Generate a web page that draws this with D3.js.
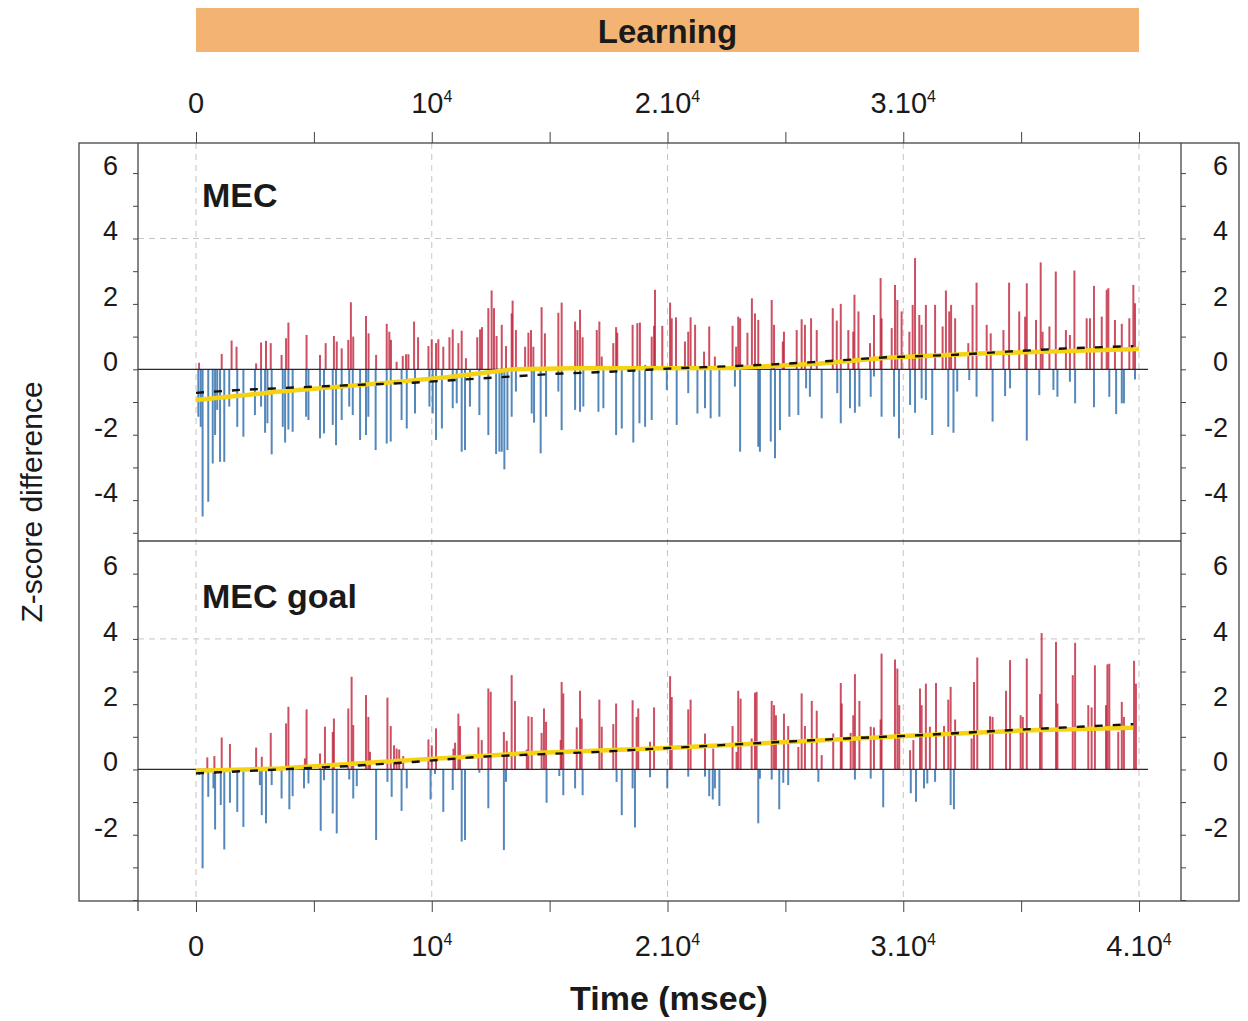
<!DOCTYPE html>
<html>
<head>
<meta charset="utf-8">
<script src="https://cdn.jsdelivr.net/npm/d3@7/dist/d3.min.js"></script>
<style>
  body { margin: 0; background: #fff; }
  svg { display: block; }
  text { font-family: "Liberation Sans", Arial, sans-serif; fill: #1a1a1a; }
</style>
</head>
<body>
<svg id="chart" width="1248" height="1021"></svg>
<script>
// x ticks (msec) and their labels: [mantissa, exponent]
const timeTicks = [0, 10000, 20000, 30000, 40000];
const timeLabels = [["0", ""], ["10", "4"], ["2.10", "4"], ["3.10", "4"], ["4.10", "4"]];
const minorTimeTicks = [0, 5000, 10000, 15000, 20000, 25000, 30000, 35000, 40000];

// MEC panel: [time msec, z-score difference]
const mecUp = [
  [130,0.2],[1090,0.47],[1510,0.88],[1720,0.69],[2550,0.18],[2760,0.82],[2970,0.87],[3170,0.8],[3630,0.44],[3820,0.95],
  [3920,1.43],[4690,1.05],[5260,0.44],[5500,0.8],[5850,1.02],[5970,0.85],[6180,0.64],[6460,0.9],[6570,2.05],[6670,1.0],
  [7210,1.63],[7320,1.1],[7640,0.44],[8090,1.39],[8200,1.15],[8270,0.9],[8510,0.23],[8770,0.41],[8910,0.46],[9010,0.46],
  [9250,1.46],[9420,0.98],[9860,0.71],[10000,0.92],[10180,0.8],[10280,0.92],[10490,0.69],[10750,0.98],[10890,1.22],[11130,0.8],
  [11270,1.18],[11450,0.34],[11930,0.98],[12050,1.22],[12130,1.29],[12400,1.87],[12540,2.41],[12640,1.87],[12750,1.02],
  [12970,1.36],[13150,0.71],[13390,1.71],[13430,2.1],[13570,1.2],[13960,0.69],[14100,1.12],[14210,1.2],[14310,0.69],[14660,1.9],
  [14800,1.1],[15370,1.73],[15510,2.04],[16080,1.46],[16180,1.2],[16290,1.82],[16400,0.98],[17000,1.2],[17110,1.46],[17210,0.39],
  [17700,0.8],[17820,1.29],[17870,1.12],[18520,1.36],[18720,1.41],[18830,1.43],[19050,0.13],[19330,1.0],[19430,1.33],[19470,2.43],
  [19780,1.33],[20110,2.04],[20180,1.56],[20360,1.59],[20740,0.85],[20880,1.15],[20980,1.59],[21170,1.36],[21550,0.54],[21770,1.31],
  [22010,0.39],[22760,1.33],[22910,0.69],[23000,1.61],[23080,1.56],[23390,1.12],[23580,2.17],[23710,1.71],[23850,1.51],[24420,2.12],
  [24520,1.36],[24890,0.85],[24940,1.15],[25480,1.2],[25690,1.53],[25830,1.36],[26090,1.56],[26330,1.2],[27010,1.87],[27180,1.49],
  [27350,2.0],[27670,1.2],[27880,1.15],[27930,2.28],[28100,1.77],[28590,0.8],[28760,1.66],[29040,2.79],[29080,1.56],[29510,1.26],
  [29650,2.58],[29750,2.12],[29930,1.77],[30260,1.15],[30400,1.97],[30500,3.4],[30680,1.66],[30780,1.36],[30960,1.97],[31350,1.97],
  [31670,1.31],[31810,2.41],[31950,1.77],[32030,1.97],[32200,1.56],[32760,0.8],[32940,1.97],[33110,2.65],[33540,1.36],[33710,1.1],
  [34250,1.2],[34490,2.65],[34920,1.77],[35170,1.61],[35240,2.63],[35630,1.51],[35830,3.27],[35910,1.15],[36200,1.31],[36470,2.99],
  [36900,1.2],[37070,1.05],[37260,3.02],[37780,1.56],[37920,1.56],[38090,2.55],[38420,1.61],[38630,2.43],[38700,2.48],[38980,1.51],
  [39270,1.39],[39590,1.56],[39760,2.58],[39830,2.02]
];
const mecDown = [
  [100,-1.45],[200,-1.76],[280,-4.5],[520,-4.05],[710,-2.88],[810,-2.01],[900,-1.24],[1020,-2.83],[1200,-2.83],[1410,-1.14],
  [1750,-1.76],[2010,-2.06],[2500,-1.4],[2760,-1.14],[2930,-1.94],[3030,-1.65],[3210,-2.6],[3680,-1.76],[3780,-2.24],[3920,-1.84],
  [4100,-1.91],[4670,-1.45],[4770,-1.55],[5260,-2.11],[5430,-1.96],[5800,-1.7],[5940,-2.32],[6180,-1.55],[6500,-1.14],[6650,-1.4],
  [6960,-2.16],[7210,-2.01],[7310,-1.45],[7620,-2.47],[8090,-2.27],[8260,-2.21],[8720,-1.55],[8940,-1.81],[9290,-1.35],[9900,-1.14],
  [10040,-1.35],[10180,-2.16],[10430,-1.81],[10890,-1.19],[11060,-1.04],[11270,-2.52],[11410,-2.47],[11620,-1.14],[12020,-1.4],[12400,-2.01],
  [12730,-2.59],[12870,-2.52],[12970,-2.52],[13080,-3.06],[13210,-2.47],[13390,-1.45],[13570,-0.68],[14240,-1.35],[14340,-1.63],[14620,-2.57],
  [14850,-1.45],[15370,-0.68],[15510,-1.86],[16080,-1.24],[16290,-1.3],[16430,-1.14],[17070,-1.3],[17280,-1.19],[17820,-2.01],[18060,-1.81],
  [18550,-2.24],[18810,-1.65],[19050,-1.76],[19330,-1.55],[19970,-0.63],[20390,-1.7],[20880,-0.73],[21270,-1.35],[21590,-1.19],[21830,-1.5],
  [22200,-1.45],[22860,-0.53],[23080,-2.52],[23850,-2.37],[23920,-2.52],[24380,-2.21],[24560,-2.72],[24770,-1.86],[25170,-1.45],[25550,-1.4],
  [25880,-0.58],[26040,-0.84],[26540,-1.5],[27200,-0.73],[27350,-1.65],[27740,-1.19],[27950,-1.33],[28140,-1.14],[28620,-0.84],[28760,-0.22],
  [29080,-1.45],[29610,-1.45],[29820,-2.11],[30290,-1.09],[30500,-1.33],[30780,-0.89],[30960,-0.94],[31230,-2.01],[31910,-1.76],[32130,-1.94],
  [32290,-0.68],[32800,-0.33],[33110,-0.84],[33790,-1.6],[34320,-0.82],[34530,-0.58],[35240,-2.18],[35770,-0.79],[36370,-0.63],[36540,-0.84],
  [37070,-0.38],[37290,-1.04],[38090,-1.16],[38740,-0.84],[39030,-1.37],[39270,-1.04],[39360,-1.04],[39830,-0.31]
];
const mecFit = [[0,-0.94],[3560,-0.68],[7800,-0.43],[10630,-0.24],[13460,0],[16000,0.03],[22800,0.04],[26470,0.18],[29300,0.35],[33500,0.49],[40000,0.62]];
const mecTrend = [[0,-0.72],[1860,-0.63],[5680,-0.51],[9200,-0.41],[12050,-0.28],[13600,-0.21],[15160,-0.14],[17000,-0.09],[18550,-0.04],[20250,0.03],[22790,0.1],[24490,0.15],[26180,0.22],[29300,0.37],[32120,0.44],[34390,0.54],[36930,0.64],[39760,0.71]];

// MEC goal panel
const goalUp = [
  [480,0.37],[780,0.41],[1090,0.98],[1440,0.78],[2550,0.67],[2790,0.39],[3170,1.12],[3820,1.41],[3920,1.92],[4620,0.34],
  [4690,1.84],[5260,0.49],[5470,1.31],[5800,1.15],[5850,1.56],[6460,1.87],[6600,2.84],[6670,1.36],[7210,2.28],[7310,1.61],
  [7380,0.54],[8120,2.2],[8260,1.33],[8400,0.74],[8510,0.64],[8620,0.61],[8790,0.41],[9860,0.92],[10000,0.74],[10180,1.26],
  [10920,0.64],[10990,0.82],[11130,1.71],[11200,1.33],[11980,1.29],[12120,0.9],[12400,2.48],[12500,2.38],
  [13060,1.15],[13180,0.88],[13390,2.89],[13530,2.1],[14030,0.61],[14100,1.63],[14240,1.61],[14660,1.12],[14760,1.87],[14850,1.46],
  [15470,0.9],[15510,2.68],[15580,2.33],[16150,1.29],[16290,2.41],[16360,1.56],[17110,2.14],[17210,1.31],[17700,1.39],[17820,2.02],
  [18520,2.12],[18690,1.61],[18760,1.87],[19260,0.85],[19430,1.9],[20110,2.86],[20180,2.22],[20880,1.84],[20980,2.14],[21590,1.1],
  [21940,0.64],[22760,1.33],[22930,0.54],[23000,2.41],[23100,2.17],[23570,0.95],[23710,2.35],[23780,2.38],[24420,2.1],[24520,1.97],
  [24600,1.66],[24940,1.71],[25120,1.33],[25550,0.69],[25690,2.33],[25830,1.33],[26120,2.1],[26330,1.8],[26540,0.44],[27030,1.1],
  [27350,2.65],[27390,2.02],[27770,1.12],[27880,1.66],[27950,2.92],[28140,2.1],[28620,1.31],[28760,1.29],[29040,1.53],[29080,3.55],
  [29650,3.37],[29750,3.09],[29830,1.97],[30290,0.59],[30430,0.9],[30710,2.48],[30780,1.97],[30960,2.63],[31130,1.31],[31390,2.65],
  [31730,1.33],[31910,2.14],[32010,2.53],[32200,1.53],[32900,0.95],[33000,2.68],[33140,3.43],[33680,1.63],[33790,1.61],[34360,2.41],
  [34530,3.35],[34980,1.66],[35070,1.61],[35240,3.4],[35800,2.31],[35870,4.18],[36480,3.91],[36540,2.02],[37190,2.89],[37290,3.88],
  [37850,1.97],[37990,1.9],[38130,3.19],[38600,1.97],[38660,3.22],[38740,3.24],[39120,1.15],[39270,2.07],[39360,1.61],[39790,3.33],
  [39870,2.63]
];
const goalDown = [
  [140,-0.17],[280,-3.03],[520,-0.84],[740,-0.58],[810,-1.84],[1050,-1.09],[1200,-2.45],[1440,-1.02],[1750,-1.3],[2010,-1.76],
  [2710,-0.48],[2790,-1.4],[2970,-1.65],[3210,-0.48],[3630,-0.89],[3960,-1.22],[4100,-0.82],[4580,-0.58],[4770,-0.43],[5290,-1.88],
  [5430,-0.33],[5800,-1.35],[5970,-1.96],[6500,-0.31],[6670,-0.89],[6820,-0.51],[7640,-2.16],[8120,-0.38],[8300,-0.84],[8720,-1.27],
  [8940,-0.58],[9950,-0.92],[10140,-0.14],[10490,-1.3],[10890,-0.63],[11270,-2.21],[11410,-2.16],[12020,-0.1],[12400,-1.19],
  [13060,-2.47],[13150,-0.38],[14870,-1.02],[15410,-0.2],[15580,-0.79],[16080,-0.58],[16400,-0.79],[17840,-0.38],[18060,-1.4],[18520,-0.58],
  [18620,-1.78],[19260,-0.24],[19990,-0.58],[20880,-0.22],[21590,-0.22],[21770,-0.82],[21920,-0.92],[22010,-0.58],[22200,-1.12],[23850,-1.65],
  [23920,-0.28],[24420,-0.31],[24740,-1.22],[24910,-0.41],[25120,-0.48],[26400,-0.38],[27950,-0.31],[28620,-0.28],[29150,-1.16],[30320,-0.73],
  [30540,-0.99],[30880,-0.58],[31020,-0.43],[31350,-0.38],[32010,-1.09],[32150,-1.22]
];
const goalFit = [[0,-0.04],[3560,0.03],[7800,0.23],[14030,0.5],[19960,0.66],[27600,0.93],[30710,1.05],[34950,1.19],[39760,1.28]];
const goalTrend = [[0,-0.12],[3560,0],[6390,0.1],[9220,0.23],[12050,0.39],[17140,0.54],[21380,0.71],[24200,0.82],[27600,0.95],[30710,1.05],[34950,1.22],[39760,1.39]];

const svg = d3.select("#chart");
const x = d3.scaleLinear().domain([0, 40000]).range([196, 1139]);

const panels = [
  { title: "MEC", up: mecUp, down: mecDown, fit: mecFit, trend: mecTrend,
    y: d3.scaleLinear().domain([-5.25, 6.92]).range([541, 143]),
    ticks: d3.range(-5, 7), labels: [-4, -2, 0, 2, 4, 6] },
  { title: "MEC goal", up: goalUp, down: goalDown, fit: goalFit, trend: goalTrend,
    y: d3.scaleLinear().domain([-4, 7]).range([900, 541]),
    ticks: d3.range(-4, 7), labels: [-2, 0, 2, 4, 6] }
];

// banner
svg.append("rect").attr("x", x(0)).attr("y", 8).attr("width", x(40000) - x(0)).attr("height", 44)
  .attr("fill", "#f3b473");
svg.append("text").attr("x", (x(0) + x(40000)) / 2).attr("y", 43).attr("text-anchor", "middle")
  .attr("font-size", 33).attr("font-weight", "bold").text("Learning");

// vertical dashed grid
svg.append("g").selectAll("line").data(timeTicks).join("line")
  .attr("x1", d => x(d)).attr("x2", d => x(d)).attr("y1", 143).attr("y2", 901)
  .attr("stroke", "#c4c4c4").attr("stroke-width", 1).attr("stroke-dasharray", "6,5");

panels.forEach(p => {
  const g = svg.append("g");
  // dashed line at z = 4
  g.append("line").attr("x1", 138).attr("x2", 1148).attr("y1", p.y(4)).attr("y2", p.y(4))
    .attr("stroke", "#c4c4c4").attr("stroke-dasharray", "6,5");

  g.append("g").selectAll("line").data(p.down).join("line")
    .attr("x1", d => x(d[0])).attr("x2", d => x(d[0]))
    .attr("y1", p.y(0)).attr("y2", d => p.y(d[1]))
    .attr("stroke", "#2466a8").attr("stroke-opacity", 0.78).attr("stroke-width", 2);
  g.append("g").selectAll("line").data(p.up).join("line")
    .attr("x1", d => x(d[0])).attr("x2", d => x(d[0]))
    .attr("y1", p.y(0)).attr("y2", d => p.y(d[1]))
    .attr("stroke", "#bf1d36").attr("stroke-opacity", 0.78).attr("stroke-width", 2);

  g.append("line").attr("x1", 138).attr("x2", 1148).attr("y1", p.y(0)).attr("y2", p.y(0))
    .attr("stroke", "#2a2a2a").attr("stroke-width", 1.3);

  const line = d3.line().x(d => x(d[0])).y(d => p.y(d[1]));
  g.append("path").attr("d", line(p.fit)).attr("fill", "none")
    .attr("stroke", "#f6d214").attr("stroke-width", 4.5);
  g.append("path").attr("d", line(p.trend)).attr("fill", "none")
    .attr("stroke", "#111").attr("stroke-width", 2.4).attr("stroke-dasharray", "8,10");

  // left and right axes
  const left = g.append("g").attr("transform", "translate(138,0)")
    .call(d3.axisLeft(p.y).tickValues(p.ticks).tickSize(5).tickFormat(d => p.labels.includes(d) ? d : ""));
  const right = g.append("g").attr("transform", "translate(1181,0)")
    .call(d3.axisRight(p.y).tickValues(p.ticks).tickSize(5).tickFormat(d => p.labels.includes(d) ? d : ""));
  [left, right].forEach(a => {
    a.select(".domain").remove();
    a.selectAll("line").attr("stroke", "#444");
    a.selectAll("text").attr("font-size", 27).attr("fill", "#1a1a1a")
      .attr("font-family", "'Liberation Sans', Arial, sans-serif").attr("dy", "0.05em");
  });
  left.selectAll("text").attr("x", -20);
  right.selectAll("text").attr("x", 47).attr("text-anchor", "end");

  g.append("text").attr("x", 202).attr("y", p.y(4.95)).attr("font-size", 34).attr("font-weight", "bold")
    .text(p.title);
});

// top and bottom time axes
const topAxis = svg.append("g").attr("transform", "translate(0,143)")
  .call(d3.axisTop(x).tickValues(minorTimeTicks).tickSize(11).tickFormat(""));
const bottomAxis = svg.append("g").attr("transform", "translate(0,901)")
  .call(d3.axisBottom(x).tickValues(minorTimeTicks).tickSize(11).tickFormat(""));
[topAxis, bottomAxis].forEach(a => {
  a.select(".domain").remove();
  a.selectAll("line").attr("stroke", "#444");
});

function timeLabel(yPos, values) {
  const t = svg.append("g").selectAll("text").data(values).join("text")
    .attr("x", d => x(d)).attr("y", yPos).attr("text-anchor", "middle").attr("font-size", 29);
  t.append("tspan").text(d => timeLabels[timeTicks.indexOf(d)][0]);
  t.append("tspan").attr("font-size", 16).attr("dy", -11)
    .text(d => timeLabels[timeTicks.indexOf(d)][1]);
}
timeLabel(113, timeTicks.slice(0, 4));
timeLabel(956, timeTicks);

// frame
const frame = svg.append("g").attr("fill", "none").attr("stroke", "#444").attr("stroke-width", 1.3);
frame.append("rect").attr("x", 79).attr("y", 143).attr("width", 1239 - 79).attr("height", 901 - 143);
frame.append("line").attr("x1", 138).attr("x2", 138).attr("y1", 143).attr("y2", 911);
frame.append("line").attr("x1", 1181).attr("x2", 1181).attr("y1", 143).attr("y2", 901);
frame.append("line").attr("x1", 138).attr("x2", 1181).attr("y1", 541).attr("y2", 541);

// axis titles
svg.append("text").attr("transform", "translate(42,502) rotate(-90)").attr("text-anchor", "middle")
  .attr("font-size", 30).text("Z-score difference");
svg.append("text").attr("x", 669).attr("y", 1010).attr("text-anchor", "middle")
  .attr("font-size", 34).attr("font-weight", "bold").text("Time (msec)");
</script>
</body>
</html>
